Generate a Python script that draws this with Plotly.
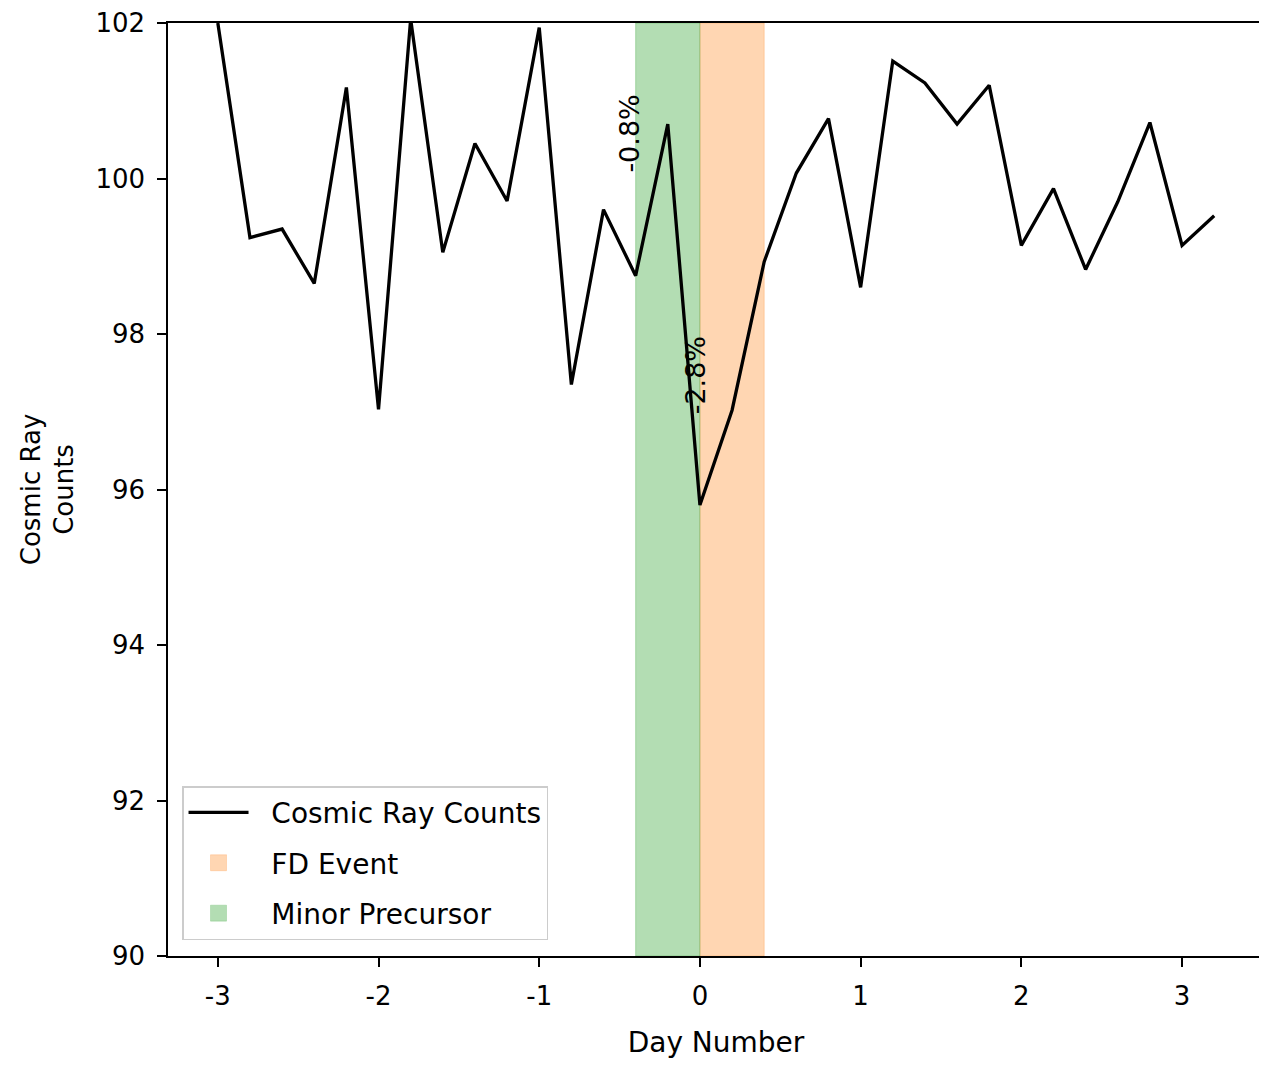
import plotly.graph_objects as go

days = [-3.0, -2.8, -2.6, -2.4, -2.2, -2.0, -1.8, -1.6, -1.4, -1.2, -1.0, -0.8, -0.6, -0.4, -0.2,
        0.0, 0.2, 0.4, 0.6, 0.8, 1.0, 1.2, 1.4, 1.6, 1.8, 2.0, 2.2, 2.4, 2.6, 2.8, 3.0, 3.2]
counts = [102.0, 99.24, 99.35, 98.65, 101.17, 97.03, 102.05, 99.05, 100.45, 99.71, 101.94, 97.35,
          99.6, 98.75, 100.70, 95.80, 97.02, 98.93, 100.07, 100.77, 98.60, 101.51, 101.23, 100.70,
          101.20, 99.14, 99.87, 98.83, 99.70, 100.72, 99.14, 99.52]

precursor_span = [-0.4, 0.0]
fd_span = [0.0, 0.4]
y_range = [90, 102]
x_range = [-3.31, 3.51]
y_ticks = [90, 92, 94, 96, 98, 100, 102]
x_ticks = [-3, -2, -1, 0, 1, 2, 3]

annot_text = ["-0.8%", "-2.8%"]
annot_x = [-0.44, -0.03]
annot_y = [100.58, 97.47]

FONT = "DejaVu Sans"
PAD = "\u00a0\u00a0"
ORANGE = "rgba(255,127,14,0.32)"
GREEN = "rgba(44,160,44,0.36)"

fig = go.Figure()

fig.add_vrect(x0=fd_span[0], x1=fd_span[1], fillcolor=ORANGE,
              line=dict(color="rgba(255,127,14,0.25)", width=1), layer="below")
fig.add_vrect(x0=precursor_span[0], x1=precursor_span[1], fillcolor=GREEN,
              line=dict(color="rgba(44,160,44,0.3)", width=1), layer="below")

fig.add_trace(go.Scatter(
    x=days, y=counts, mode="lines", line=dict(color="black", width=3.3),
    name=PAD + "Cosmic Ray Counts", legendrank=1, legendgroup="line"))

# legend entries for the shaded spans
fig.add_trace(go.Scatter(
    x=[None], y=[None], mode="markers",
    marker=dict(symbol="square", size=22, color=ORANGE, line=dict(color="rgba(255,127,14,0.2)", width=1)),
    name=PAD + "FD Event", legendrank=2, legendgroup="fd"))
fig.add_trace(go.Scatter(
    x=[None], y=[None], mode="markers",
    marker=dict(symbol="square", size=22, color=GREEN, line=dict(color="rgba(44,160,44,0.2)", width=1)),
    name=PAD + "Minor Precursor", legendrank=3, legendgroup="pre"))

for t, ax_, ay_ in zip(annot_text, annot_x, annot_y):
    fig.add_annotation(x=ax_, y=ay_, text=t, showarrow=False, textangle=-90,
                       font=dict(family=FONT, size=27, color="black"))

axis_common = dict(showline=True, linecolor="black", linewidth=1.5, mirror=True,
                   ticks="outside", ticklen=9, tickwidth=1.5, tickcolor="black",
                   showgrid=False, zeroline=False, ticklabeloverflow="allow",
                   ticklabelstandoff=7, automargin=False,
                   tickfont=dict(family=FONT, size=26, color="black"))

fig.update_xaxes(range=x_range, tickvals=x_ticks, ticktext=[str(v) for v in x_ticks],
                 title=dict(text="Day Number", font=dict(family=FONT, size=28, color="black"), standoff=22),
                 **axis_common)
fig.update_yaxes(range=y_range, tickvals=y_ticks, ticktext=[str(v) for v in y_ticks],
                 title=dict(text="Cosmic Ray<br>Counts", font=dict(family=FONT, size=26, color="black"), standoff=14),
                 **axis_common)

fig.update_layout(
    width=1267, height=1066,
    margin=dict(l=160, r=11, t=15, b=118),
    plot_bgcolor="white", paper_bgcolor="white",
    font=dict(family=FONT, color="black"),
    showlegend=True,
    legend=dict(x=0.0128, y=0.017, xanchor="left", yanchor="bottom",
                bgcolor="rgba(255,255,255,0.8)", bordercolor="#cccccc", borderwidth=1.5,
                font=dict(family=FONT, size=28, color="black"),
                itemwidth=60, tracegroupgap=11),
)

fig.write_html("out.html")
